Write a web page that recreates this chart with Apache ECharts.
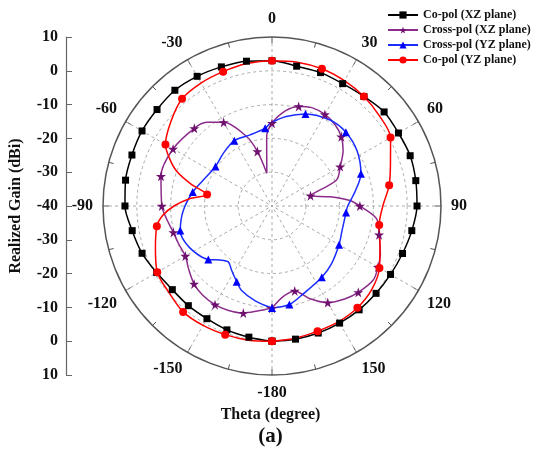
<!DOCTYPE html>
<html>
<head>
<meta charset="utf-8">
<script src="https://cdn.jsdelivr.net/npm/echarts@6/dist/echarts.min.js"></script>
<style>html,body{margin:0;padding:0;background:#fff}#c{width:541px;height:450px}</style>
</head>
<body>
<div id="c"></div>
<script>
// ---- data ----
var seriesNames = ['Co-pol (XZ plane)', 'Cross-pol (XZ plane)', 'Cross-pol (YZ plane)', 'Co-pol (YZ plane)'];
var angleTicks = [-180, -150, -120, -90, -60, -30, 0, 30, 60, 90, 120, 150, 180];
var gainTicks = [-40, -30, -20, -10, 0, 10];

var coXZAngles = [-180,-170,-160,-150,-140,-130,-120,-110,-100,-90,-80,-70,-60,-50,-40,-30,-20,-10,0,10,20,30,40,50,60,70,80,90,100,110,120,130,140,150,160,170,180];
var coXZGain   = [0,-0.6,-1,-1.5,-1.5,-1.5,-0.6,0.9,2.0,3.5,4.0,4.1,4.4,4.4,4.7,4.3,3.8,3.5,3.0,2.0,2.0,1.8,2.3,3.3,3.2,3.5,3.2,2.9,2.0,1.1,0.5,0.2,0.1,0,0,0,0];

var crossXZAngles = [-180,-172,-165,-157,-150,-142,-135,-127,-120,-112,-105,-97,-90,-75,-60,-45,-38,-30,-20,-15,-9,-4.4,0,8,15,22,30,38,45,52,60,68,75,81,86,90,97,105,114,120,126,135,142,150,158,165,173,180];
var crossXZGain   = [-9.8,-8.6,-7.2,-6.5,-6.3,-6.6,-7.4,-9.1,-10.4,-10.2,-9.8,-8.6,-7.4,-6,-6.2,-7.5,-8.6,-11.4,-18.2,-23.3,-30.2,-19.4,-15.5,-11.6,-9.5,-8.6,-8.7,-9.6,-11,-13.3,-16.7,-19.4,-28.2,-22.6,-16.9,-14,-8.8,-7.2,-4.9,-3.8,-2.9,-3.9,-5.1,-7.0,-10.5,-14,-13,-9.8];

var crossYZAngles = [-180,-170,-160,-155,-148,-142,-136,-130,-117,-105,-93,-80,-69,-55,-43,-30,-17,-5,-1,9,20,34,45,57,70,80,90,95,110,120,134,145,160,170,180];
var crossYZGain   = [-9.8,-11.5,-13.5,-15.3,-17.5,-19,-17.8,-15.4,-12.7,-11.9,-13.7,-16.2,-18.3,-19.6,-18.8,-17.7,-18,-16.9,-15.5,-13.2,-11,-9.3,-9.1,-10,-12,-15,-17.6,-18,-18,-17.1,-15.5,-14.3,-12.5,-10.4,-9.8];

var coYZAngles = [-180,-170,-160,-150,-140,-130,-120,-110,-100,-95,-90,-85,-80,-75,-70,-65,-60,-50,-40,-30,-20,-10,0,10,20,30,40,50,60,70,80,90,100,110,120,130,140,150,160,170,180];
var coYZGain   = [0,0.3,0.5,0.8,0.9,-0.2,-0.8,-3.3,-5.4,-7.5,-11,-15.5,-20.5,-15.3,-10,-6.5,-3.6,-1.0,1.4,2.0,2.3,2.8,3.0,3.2,3.2,2.8,2.3,1.5,0.5,-2.7,-4.8,-7.2,-7.8,-6,-3.3,-1.5,-0.7,-0.5,-0.6,-0.3,0];

// ---- chart ----
var FONT = 'Liberation Serif';
var STAR = 'path://M50,0 L61,35 L98,35 L68,57 L79,91 L50,70 L21,91 L32,57 L2,35 L39,35 Z';

function build(angles, gains, step, offset) {
  return angles.map(function (a, i) {
    var m = (((a - offset) % step) + step) % step === 0;
    var item = { value: [gains[i], a] };
    if (!m) item.symbol = 'none';
    return item;
  });
}

var chart = echarts.init(document.getElementById('c'));
var rMin = gainTicks[0], rMax = gainTicks[gainTicks.length - 1];
chart.setOption({
  animation: false,
  backgroundColor: '#fff',
  textStyle: { fontFamily: FONT },
  title: [
    { text: 'Theta (degree)', left: 'center', top: 402, textStyle: { fontFamily: FONT, fontWeight: 'bold', fontSize: 16, color: '#111' } },
    { text: '(a)', left: 'center', top: 421, textStyle: { fontFamily: FONT, fontWeight: 'bold', fontSize: 21, color: '#111' } }
  ],
  legend: {
    orient: 'vertical', left: 382, top: 4, itemWidth: 30, itemHeight: 9, itemGap: 3,
    textStyle: { fontFamily: FONT, fontWeight: 'bold', fontSize: 12, color: '#111' },
    data: seriesNames
  },
  grid: { left: 66, top: 37, height: 338, width: 1 },
  xAxis: { type: 'value', show: false },
  yAxis: {
    type: 'value', min: -(rMax - rMin), max: rMax - rMin, interval: 10,
    name: 'Realized Gain (dBi)', nameLocation: 'middle', nameGap: 42, nameRotate: 90,
    nameTextStyle: { fontFamily: FONT, fontWeight: 'bold', fontSize: 16, color: '#111' },
    axisLine: { show: true, lineStyle: { color: '#666', width: 1.2 } },
    axisTick: { show: true, inside: true, length: 6, lineStyle: { color: '#666' } },
    splitLine: { show: false },
    axisLabel: { fontFamily: FONT, fontWeight: 'bold', fontSize: 16, color: '#111', margin: 8,
      formatter: function (v) { return String(Math.abs(v) + rMin); } }
  },
  polar: { center: [272, 206], radius: 169 },
  angleAxis: {
    type: 'value', min: angleTicks[0], max: angleTicks[angleTicks.length - 1], interval: 30,
    startAngle: 270, clockwise: true,
    axisLine: { show: true, lineStyle: { color: '#555', width: 1.5 } },
    axisTick: { show: true, inside: true, length: 6, lineStyle: { color: '#555' } },
    minorTick: { show: true, splitNumber: 2, length: 5, lineStyle: { color: '#555' } },
    splitLine: { show: true, lineStyle: { color: '#aaa', type: [3, 3], width: 1 } },
    axisLabel: { fontFamily: FONT, fontWeight: 'bold', fontSize: 16, color: '#111', margin: 10,
      formatter: function (v) { return v === 180 ? '' : String(v); } }
  },
  radiusAxis: {
    type: 'value', min: rMin, max: rMax, interval: 10,
    axisLine: { show: false }, axisTick: { show: false }, axisLabel: { show: false },
    splitLine: { show: true, lineStyle: { color: ['#aaa', '#aaa', '#aaa', '#aaa', '#aaa', 'rgba(0,0,0,0)'], type: [3, 3], width: 1 } }
  },
  series: [
    { name: seriesNames[0], type: 'line', coordinateSystem: 'polar', smooth: 0.3,
      symbol: 'rect', symbolSize: 7, showAllSymbol: true,
      lineStyle: { color: '#000', width: 1.5 }, itemStyle: { color: '#000' },
      data: build(coXZAngles, coXZGain, 10, 0) },
    { name: seriesNames[1], type: 'line', coordinateSystem: 'polar', smooth: 0.3,
      symbol: STAR, symbolSize: 10, showAllSymbol: true,
      lineStyle: { color: '#8b2c8b', width: 1.5 }, itemStyle: { color: '#6e106e' },
      data: build(crossXZAngles, crossXZGain, 15, 0) },
    { name: seriesNames[2], type: 'line', coordinateSystem: 'polar', smooth: 0.3,
      symbol: 'triangle', symbolSize: 8, showAllSymbol: true,
      lineStyle: { color: '#1a2cff', width: 1.5 }, itemStyle: { color: '#0000ff' },
      data: build(crossYZAngles, crossYZGain, 25, -5) },
    { name: seriesNames[3], type: 'line', coordinateSystem: 'polar', smooth: 0.3,
      symbol: 'circle', symbolSize: 8, showAllSymbol: true,
      lineStyle: { color: '#ff0000', width: 1.5 }, itemStyle: { color: '#ff0000' },
      data: build(coYZAngles, coYZGain, 20, 0) }
  ]
});
</script>
</body>
</html>
